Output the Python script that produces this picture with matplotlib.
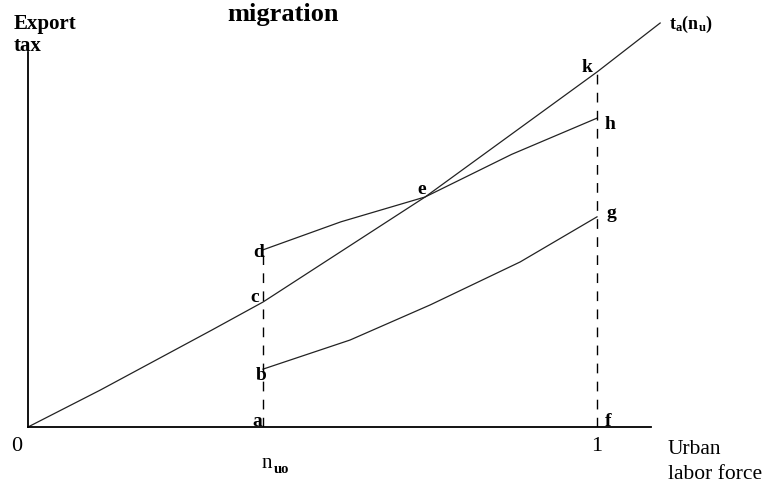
"""Export tax vs. urban labor force diagram (migration)."""

import matplotlib

matplotlib.use("Agg")
import matplotlib.pyplot as plt

plt.rcParams.update({
    "font.family": ["Liberation Serif", "DejaVu Serif"],
    "mathtext.fontset": "custom",
    "mathtext.rm": "Liberation Serif:bold",
    "mathtext.it": "Liberation Serif:bold",
    "mathtext.bf": "Liberation Serif:bold",
})

# x: urban labor force (1 = full), y: export tax (k = 1)
N_UO = 0.413
TA_X = [0.0, 0.127, 0.323, 0.413, 0.698, 1.0, 1.111]
TA_Y = [0.0, 0.104, 0.273, 0.352, 0.648, 1.0, 1.138]
UPPER_X = [0.413, 0.55, 0.698, 0.85, 1.0]
UPPER_Y = [0.499, 0.578, 0.648, 0.768, 0.870]
LOWER_X = [0.413, 0.566, 0.707, 0.865, 1.0]
LOWER_Y = [0.163, 0.245, 0.344, 0.465, 0.592]
D_Y = 0.499
K_Y = 1.0

# label anchors (left, baseline) in data units
POINT_LABELS = {
    "k": (0.972, 1.0), "h": (1.014, 0.839), "e": (0.685, 0.656),
    "g": (1.016, 0.589), "d": (0.395, 0.479), "c": (0.390, 0.352),
    "b": (0.401, 0.132), "a": (0.395, 0.004), "f": (1.014, 0.004),
}

W, H = 771, 490
fig = plt.figure(figsize=(W / 100, H / 100), dpi=100)
ax = fig.add_axes([28 / W, (H - 427) / H, (651 - 28) / W, (427 - 52) / H])
ax.set_xlim(0, (651 - 28) / 569)
ax.set_ylim(0, (427 - 52) / 355)
for side in ("top", "right"):
    ax.spines[side].set_visible(False)
for side in ("left", "bottom"):
    ax.spines[side].set_linewidth(1.3)
ax.set_xticks([])
ax.set_yticks([])

line_kw = dict(color="#222222", linewidth=0.9, clip_on=False)
ax.plot(TA_X, TA_Y, **line_kw)
ax.plot(UPPER_X, UPPER_Y, **line_kw)
ax.plot(LOWER_X, LOWER_Y, **line_kw)

dash_kw = dict(color="black", linewidth=1.0, dashes=(7, 6))
ax.plot([N_UO, N_UO], [0, D_Y], **dash_kw)
ax.plot([1.0, 1.0], [0, K_Y], **dash_kw)

for name, (x, y) in POINT_LABELS.items():
    ax.text(x, y, name, fontsize=14, fontweight="bold", ha="left", va="baseline")

ax.text(1.127, 1.135, r"$\mathrm{t_a(n_u)}$", fontsize=13, ha="left", va="center",
        clip_on=False)

fig.text(14 / W, 1 - 24 / H, "Export", fontsize=15, fontweight="bold", va="center")
fig.text(14 / W, 1 - 46 / H, "tax", fontsize=15, fontweight="bold", va="center")
fig.text(283 / W, 1 - 14 / H, "migration", fontsize=19, fontweight="bold",
         ha="center", va="center")

fig.text(17 / W, 1 - 446 / H, "0", fontsize=16, ha="center", va="center")
fig.text(597 / W, 1 - 446 / H, "1", fontsize=16, ha="center", va="center")
fig.text(262 / W, 1 - 463 / H, "n", fontsize=15, ha="left", va="center")
fig.text(274 / W, 1 - 469 / H, "uo", fontsize=10.5, fontweight="bold",
         ha="left", va="center")
fig.text(668 / W, 1 - 449 / H, "Urban", fontsize=15.5, ha="left", va="center")
fig.text(668 / W, 1 - 474 / H, "labor force", fontsize=15.5, ha="left", va="center")

fig.savefig("out.png", dpi=100)
